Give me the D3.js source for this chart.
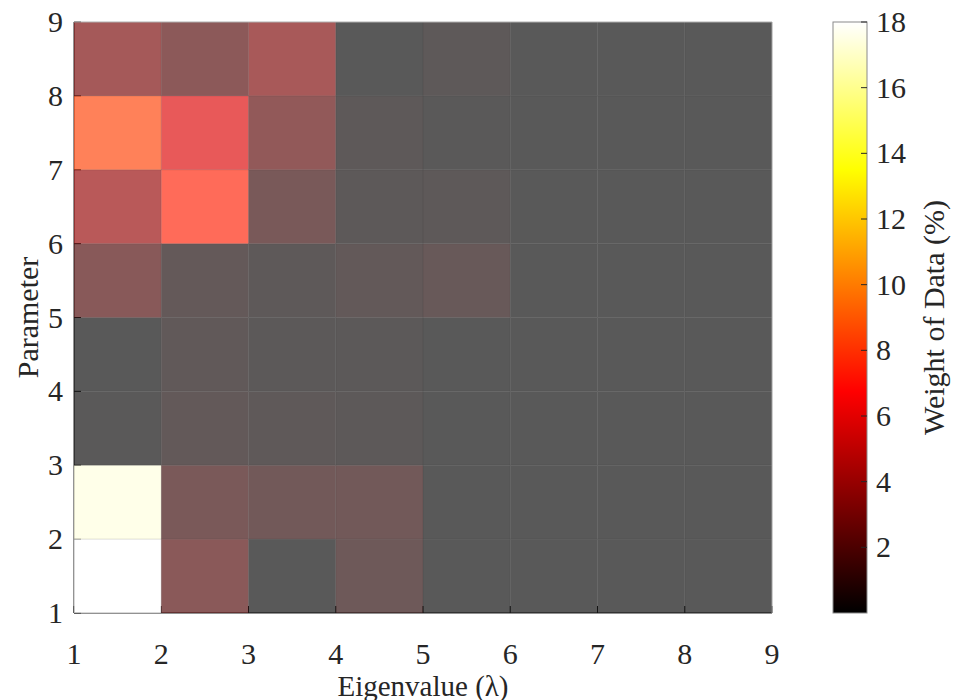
<!DOCTYPE html>
<html>
<head>
<meta charset="utf-8">
<script src="https://cdn.jsdelivr.net/npm/d3@7"></script>
<style>
  body { margin: 0; background: #fff; }
  text { font-family: "Liberation Serif", "Times New Roman", serif; fill: #262626; }
</style>
</head>
<body>
<svg id="chart" width="956" height="700"></svg>
<script>
// weight of data (%) per parameter row, columns = eigenvalue 1..8
var param1 = [18.0, 2.0, 0.0, 0.85, 0.0, 0.0, 0.0, 0.0];
var param2 = [17.4, 1.35, 1.0, 1.0, 0.0, 0.0, 0.0, 0.0];
var param3 = [0.05, 0.4, 0.25, 0.15, 0.0, 0.0, 0.0, 0.0];
var param4 = [0.0, 0.35, 0.1, 0.1, 0.0, 0.0, 0.0, 0.0];
var param5 = [1.9, 0.45, 0.2, 0.4, 0.6, 0.0, 0.0, 0.0];
var param6 = [3.9, 7.5, 1.3, 0.15, 0.2, 0.0, 0.0, 0.0];
var param7 = [8.4, 5.8, 2.3, 0.2, 0.05, 0.0, 0.0, 0.0];
var param8 = [3.1, 2.1, 3.2, 0.0, 0.2, 0.0, 0.0, 0.0];

var xTicks = [1, 2, 3, 4, 5, 6, 7, 8, 9];
var yTicks = [1, 2, 3, 4, 5, 6, 7, 8, 9];
var cbTicks = [2, 4, 6, 8, 10, 12, 14, 16, 18];
var cbRange = [0, 18];

var rows = [param1, param2, param3, param4, param5, param6, param7, param8];
var cells = [];
rows.forEach(function (r, j) {
    r.forEach(function (v, i) {
        cells.push({ x: i + 1, y: j + 1, v: v });
    });
});

var svg = d3.select('#chart');
var pLeft = 74, pRight = 772, pTop = 22, pBottom = 613;
var fs = 30;

var x = d3.scaleLinear().domain([1, 9]).range([pLeft, pRight]);
var y = d3.scaleLinear().domain([1, 9]).range([pBottom, pTop]);
var tScale = d3.scaleLinear().domain(cbRange).range([0, 1]).clamp(true);

// matlab "hot"
function hot(t) {
    var r = Math.min(1, t / 0.375);
    var g = Math.max(0, Math.min(1, (t - 0.375) / 0.375));
    var b = Math.max(0, Math.min(1, (t - 0.75) / 0.25));
    return d3.rgb(r * 255, g * 255, b * 255).toString();
}

// axis lines + inside ticks (under the cells)
var axisColor = '#262626';
svg.append('line').attr('x1', pLeft).attr('x2', pLeft).attr('y1', pTop).attr('y2', pBottom)
    .attr('stroke', axisColor);
svg.append('line').attr('x1', pLeft).attr('x2', pRight).attr('y1', pBottom).attr('y2', pBottom)
    .attr('stroke', axisColor);
svg.selectAll('.xt').data(xTicks).enter().append('line')
    .attr('x1', function (d) { return x(d); }).attr('x2', function (d) { return x(d); })
    .attr('y1', pBottom).attr('y2', pBottom - 7).attr('stroke', axisColor);
svg.selectAll('.yt').data(yTicks).enter().append('line')
    .attr('y1', function (d) { return y(d); }).attr('y2', function (d) { return y(d); })
    .attr('x1', pLeft).attr('x2', pLeft + 7).attr('stroke', axisColor);

// cells
svg.append('g').selectAll('rect')
    .data(cells)
    .enter()
    .append('rect')
    .attr('x', function (d) { return x(d.x); })
    .attr('y', function (d) { return y(d.y + 1); })
    .attr('width', function (d) { return x(d.x + 1) - x(d.x); })
    .attr('height', function (d) { return y(d.y) - y(d.y + 1); })
    .attr('fill', function (d) { return hot(tScale(d.v)); })
    .attr('fill-opacity', 0.65);

// grid
var grid = svg.append('g').attr('stroke', '#262626').attr('stroke-opacity', 0.15);
grid.selectAll('.gx').data(xTicks.slice(1, -1)).enter().append('line')
    .attr('x1', function (d) { return x(d); }).attr('x2', function (d) { return x(d); })
    .attr('y1', pTop).attr('y2', pBottom);
grid.selectAll('.gy').data(yTicks.slice(1, -1)).enter().append('line')
    .attr('y1', function (d) { return y(d); }).attr('y2', function (d) { return y(d); })
    .attr('x1', pLeft).attr('x2', pRight);

// top/right box edges
svg.append('line').attr('x1', pLeft).attr('x2', pRight).attr('y1', pTop).attr('y2', pTop)
    .attr('stroke', '#b0b0b0');
svg.append('line').attr('x1', pRight).attr('x2', pRight).attr('y1', pTop).attr('y2', pBottom)
    .attr('stroke', '#a0a0a0');

// tick labels
svg.selectAll('.xl').data(xTicks).enter().append('text')
    .attr('x', function (d) { return x(d); })
    .attr('y', 664)
    .attr('text-anchor', 'middle')
    .attr('font-size', fs)
    .text(function (d) { return d; });
svg.selectAll('.yl').data(yTicks).enter().append('text')
    .attr('x', 63)
    .attr('y', function (d) { return y(d) + 10; })
    .attr('text-anchor', 'end')
    .attr('font-size', fs)
    .text(function (d) { return d; });

svg.append('text')
    .attr('x', (pLeft + pRight) / 2).attr('y', 696)
    .attr('text-anchor', 'middle').attr('font-size', 29)
    .text('Eigenvalue (\u03bb)');
svg.append('text')
    .attr('transform', 'translate(38,' + (pTop + pBottom) / 2 + ') rotate(-90)')
    .attr('text-anchor', 'middle').attr('font-size', fs)
    .text('Parameter');

// colorbar
var cbX = 833, cbW = 34;
var cy = d3.scaleLinear().domain(cbRange).range([pBottom, pTop]);
var grad = svg.append('defs').append('linearGradient')
    .attr('id', 'hotGrad').attr('x1', 0).attr('x2', 0).attr('y1', 1).attr('y2', 0);
grad.selectAll('stop').data(d3.range(0, 1.0001, 0.025)).enter().append('stop')
    .attr('offset', function (d) { return d; })
    .attr('stop-color', function (d) { return hot(d); });
svg.append('rect')
    .attr('x', cbX).attr('y', pTop).attr('width', cbW).attr('height', pBottom - pTop)
    .attr('fill', 'url(#hotGrad)')
    .attr('stroke', '#8a8a8a').attr('stroke-width', 1);
svg.selectAll('.ct').data(cbTicks).enter().append('line')
    .attr('x1', cbX + cbW - 6).attr('x2', cbX + cbW)
    .attr('y1', function (d) { return cy(d); }).attr('y2', function (d) { return cy(d); })
    .attr('stroke', '#262626');
svg.selectAll('.cl').data(cbTicks).enter().append('text')
    .attr('x', 876)
    .attr('y', function (d) { return cy(d) + 10; })
    .attr('font-size', fs)
    .text(function (d) { return d; });
svg.append('text')
    .attr('transform', 'translate(944,' + (pTop + pBottom) / 2 + ') rotate(-90)')
    .attr('text-anchor', 'middle').attr('font-size', fs)
    .text('Weight of Data (%)');
</script>
</body>
</html>
